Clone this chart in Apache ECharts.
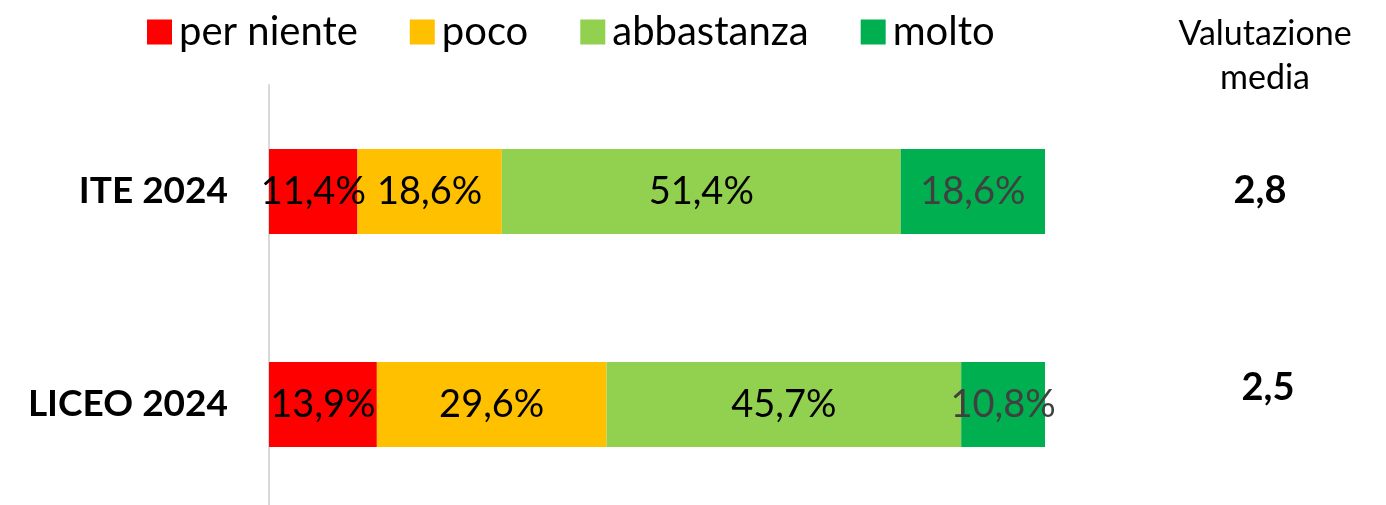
<!DOCTYPE html>
<html>
<head>
<meta charset="utf-8">
<script src="https://cdn.jsdelivr.net/npm/echarts@6/dist/echarts.min.js"></script>
<style>
  html, body { margin: 0; padding: 0; background: #fff; }
  #main { width: 1386px; height: 505px; }
</style>
</head>
<body>
<div id="main"></div>
<script>
var chart = echarts.init(document.getElementById('main'));

const groups = ['ITE 2024', 'LICEO 2024'];
const levels = ['per niente', 'poco', 'abbastanza', 'molto'];
const perNiente = [11.4, 13.9];
const poco = [18.6, 29.6];
const abbastanza = [51.4, 45.7];
const molto = [18.6, 10.8];
const mediaValues = ['2,8', '2,5'];

const colors = ['#FF0000', '#FFC000', '#92D050', '#00B050'];
const labelColors = ['#000000', '#000000', '#000000', '#404040'];
const seriesData = [perNiente, poco, abbastanza, molto];

function pct(v) {
    return v.toFixed(1).replace('.', ',') + '%';
}

let option = {
    textStyle: {fontFamily: 'Lato'},
    animation: false,
    title: {
        text: 'Valutazione\nmedia',
        left: 1260,
        top: 7,
        textAlign: 'center',
        textStyle: {fontFamily: 'Lato', fontSize: 34, fontWeight: 'normal', color: '#000', lineHeight: 44}
    },
    legend: {
        data: levels,
        left: 142,
        top: 7,
        itemWidth: 25,
        itemHeight: 25,
        itemGap: 52,
        icon: 'rect',
        textStyle: {fontFamily: 'Lato', fontSize: 40, color: '#000', padding: [0, 0, 0, 2]}
    },
    grid: {left: 269, right: 341, top: 85, height: 426, outerBoundsMode: 'none'},
    xAxis: {type: 'value', min: 0, max: 100, show: false},
    yAxis: [
        {
            type: 'category',
            data: groups,
            inverse: true,
            axisLine: {show: true, lineStyle: {color: '#d9d9d9', width: 2}},
            axisTick: {show: false},
            axisLabel: {margin: 41, fontFamily: 'Lato', fontSize: 37, fontWeight: 'bold', color: '#000'}
        },
        {
            type: 'category',
            data: groups,
            inverse: true,
            position: 'right',
            axisLine: {show: false},
            axisTick: {show: false},
            axisLabel: {
                margin: 215,
                align: 'center',
                formatter: function (v, i) {
                    return i === 0 ? '{a|' + mediaValues[i] + '}' : '{b|' + mediaValues[i] + '}';
                },
                rich: {
                    a: {fontFamily: 'Lato', fontSize: 38, fontWeight: 'bold', color: '#000', padding: [0, 0, 2, 0]},
                    b: {fontFamily: 'Lato', fontSize: 38, fontWeight: 'bold', color: '#000', padding: [0, 0, 34, 16]}
                }
            }
        }
    ],
    series: levels.map(function (name, k) {
        return {
            name: name,
            type: 'bar',
            stack: 'tot',
            barWidth: 85,
            data: seriesData[k],
            itemStyle: {color: colors[k]},
            label: {
                show: true,
                position: 'inside',
                fontFamily: 'Lato',
                fontSize: 38,
                color: labelColors[k],
                formatter: function (p) { return pct(p.value); }
            }
        };
    })
};

chart.setOption(option);
</script>
</body>
</html>
